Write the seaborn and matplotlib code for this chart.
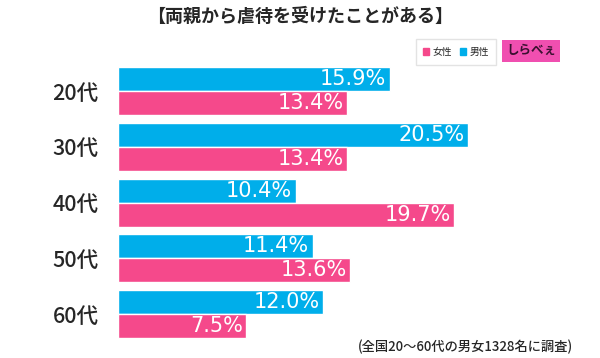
import pandas as pd
import matplotlib
matplotlib.use("Agg")
import matplotlib.pyplot as plt
import seaborn as sns
from matplotlib.patches import Patch

sns.set_style("white")
plt.rcParams['font.family'] = ['Noto Sans CJK JP', 'DejaVu Sans']

ages = ['20代', '30代', '40代', '50代', '60代']
male = [15.9, 20.5, 10.4, 11.4, 12.0]
female = [13.4, 13.4, 19.7, 13.6, 7.5]

blue = '#00AEEA'
pink = '#F5498B'

df = pd.DataFrame({
    'age': ages * 2,
    'value': male + female,
    'sex': ['男性'] * len(ages) + ['女性'] * len(ages),
})

fig = plt.figure(figsize=(6, 3.58), dpi=100)
ax = fig.add_axes([0.1967, 0.0447, 0.797, 0.7786])

sns.barplot(data=df, y='age', x='value', hue='sex', hue_order=['男性', '女性'],
            palette={'男性': blue, '女性': pink}, orient='h', width=0.86,
            saturation=1, ax=ax, legend=False)

ax.set_xlim(0, 28)
ax.set_ylim(4.5, -0.5)
ax.set_xlabel('')
ax.set_ylabel('')
ax.set_xticks([])
ax.tick_params(axis='y', length=0, pad=14, labelsize=15.5)
for lab in ax.get_yticklabels():
    lab.set_fontweight('medium')
for s in ax.spines.values():
    s.set_visible(False)

# 数値ラベル（バーの内側・右寄せ）
for cont, vals in zip(ax.containers, [male, female]):
    for bar, v in zip(cont, vals):
        ax.text(v - 0.2, bar.get_y() + bar.get_height() / 2, f'{v:.1f}%',
                ha='right', va='center', color='white', fontsize=15,
                family=['DejaVu Sans'])

fig.text(0.5, 0.955, '【両親から虐待を受けたことがある】', ha='center', va='center',
         fontsize=13, fontweight='bold')

handles = [Patch(color=pink, label='女性'), Patch(color=blue, label='男性')]
fig.legend(handles=handles, ncol=2, loc='center', bbox_to_anchor=(0.76, 0.855),
           fontsize=7, frameon=True, handlelength=0.6, handleheight=0.6,
           handletextpad=0.3, columnspacing=0.9, borderpad=0.8,
           edgecolor='#dddddd', fancybox=False)

fig.text(0.885, 0.858, 'しらべぇ', ha='center', va='center', fontsize=9,
         fontweight='bold', color='#3a1030',
         bbox=dict(boxstyle='square,pad=0.35', facecolor='#F04FB0', edgecolor='none'))

fig.text(0.955, 0.03, '(全国20〜60代の男女1328名に調査)', ha='right', va='center',
         fontsize=9.5, fontweight='medium')

fig.savefig('out.png', dpi=100)
